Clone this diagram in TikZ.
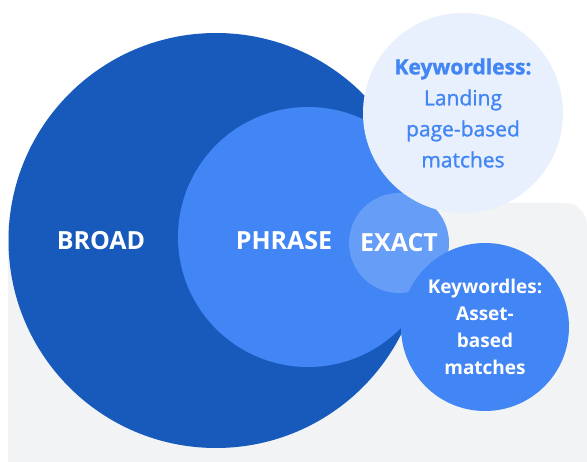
\documentclass[tikz,border=0pt]{standalone}
\usepackage{fontspec}
\setmainfont{Open Sans}
\newfontfamily\medfont{Open Sans}[FakeBold=1.2]
\usepackage{tikz}
\usetikzlibrary{positioning}

\definecolor{broadblue}{HTML}{185ABC}
\definecolor{phraseblue}{HTML}{4285F4}
\definecolor{exactblue}{HTML}{669DF6}
\definecolor{paleblue}{HTML}{E8F0FE}
\definecolor{bggray}{HTML}{F1F3F4}

\begin{document}
\begin{tikzpicture}[x=1pt,y=-1pt,
  set/.style={circle,inner sep=0pt,outer sep=0pt,minimum size=2*#1},
  caps/.style={text=white,font=\fontsize{25}{30}\selectfont\bfseries},
  small/.style={align=center}]
\useasboundingbox (0,0) rectangle (587,462);
\fill [bggray,rounded corners=22pt] (8,203) rectangle (587,490);
\node [set=207.5pt,fill=broadblue] (broad) at (216,240.5) {};
\node [set=130pt,fill=phraseblue] (phrase) at (308,237) {};
\node [set=50pt,fill=exactblue] (exact) at (399,243) {};
\node [set=100pt,fill=paleblue,small,text=phraseblue,
       font=\fontsize{21}{31}\selectfont\medfont] (kwl) at (463,113)
  {\bfseries Keywordless:\\Landing\\page-based\\matches};
\node [set=84pt,fill=phraseblue,small,text=white,
       font=\fontsize{19}{27}\selectfont\bfseries] (asset) at (485,327)
  {Keywordles:\\Asset-\\based\\matches};
\node [caps] (broadlbl) at (101,241) {BROAD};
\node [caps] (phraselbl) at (284,241) {PHRASE};
\node [caps] (exactlbl) at (exact) {EXACT};
\end{tikzpicture}
\end{document}
